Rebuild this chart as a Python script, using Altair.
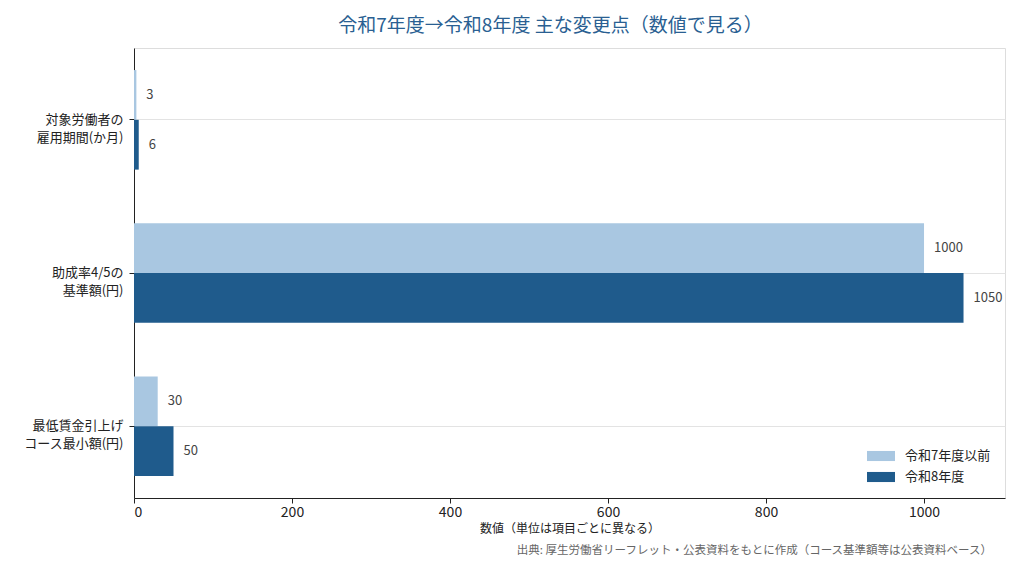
import altair as alt
import pandas as pd

FONT = "Noto Sans CJK JP"

categories = ["対象労働者の\n雇用期間(か月)", "助成率4/5の\n基準額(円)", "最低賃金引上げ\nコース最小額(円)"]
series = ["令和7年度以前", "令和8年度"]
before_values = [3, 1000, 30]
after_values = [6, 1050, 50]
colors = ["#a9c7e1", "#1f5b8c"]

rows = []
for cat, b, a in zip(categories, before_values, after_values):
    rows.append({"item": cat, "period": series[0], "value": b})
    rows.append({"item": cat, "period": series[1], "value": a})
df = pd.DataFrame(rows)

W, H = 871, 450

base = alt.Chart(df).encode(
    y=alt.Y(
        "item:N",
        sort=categories,
        scale=alt.Scale(paddingInner=0.35, paddingOuter=0.144),
        axis=alt.Axis(
            title=None,
            labelExpr="split(datum.label, '\\n')",
            labelFont=FONT,
            labelFontSize=13,
            labelColor="#222222",
            labelLineHeight=18,
            labelPadding=6,
            tickSize=5,
            tickColor="#222222",
            domainColor="#222222",
            grid=True,
            gridColor="#e3e3e3",
            bandPosition=0.5,
        ),
    ),
    yOffset=alt.YOffset("period:N", sort=series),
)

bars = base.mark_bar().encode(
    x=alt.X(
        "value:Q",
        scale=alt.Scale(domain=[0, 1102.5], nice=False),
        axis=alt.Axis(
            title="数値（単位は項目ごとに異なる）",
            titleFont=FONT,
            titleFontSize=12,
            titleFontWeight="normal",
            titleColor="#222222",
            titlePadding=4,
            values=[0, 200, 400, 600, 800, 1000],
            format="d",
            labelFont=FONT,
            labelFontSize=14,
            labelColor="#222222",
            tickSize=5,
            tickColor="#222222",
            domainColor="#222222",
            grid=False,
        ),
    ),
    color=alt.Color(
        "period:N",
        sort=series,
        scale=alt.Scale(domain=series, range=colors),
        legend=alt.Legend(
            title=None,
            orient="bottom-right",
            offset=14,
            labelFont=FONT,
            labelFontSize=13,
            labelColor="#222222",
            symbolType="M-1,-0.36L1,-0.36L1,0.36L-1,0.36Z",
            symbolSize=784,
            symbolStrokeWidth=0,
            symbolOpacity=1,
            rowPadding=0,
            labelOffset=10,
        ),
    ),
)

labels = base.mark_text(
    align="left", baseline="middle", dx=10, font=FONT, fontSize=13, color="#444444"
).encode(
    x=alt.X("value:Q"),
    text=alt.Text("value:Q"),
)

footer = alt.Chart(pd.DataFrame({"t": ["出典: 厚生労働省リーフレット・公表資料をもとに作成（コース基準額等は公表資料ベース）"]})).mark_text(
    align="right", baseline="middle", font=FONT, fontSize=11.5, color="#666666"
).encode(
    x=alt.value(858),
    y=alt.value(H + 53),
    text="t:N",
)

chart = (
    alt.layer(bars, labels, footer)
    .properties(
        width=W,
        height=H,
        autosize=alt.AutoSizeParams(type="none"),
        padding={"left": 126, "top": 40, "right": 10, "bottom": 60},
        title=alt.TitleParams(
            "令和7年度→令和8年度 主な変更点（数値で見る）",
            font=FONT,
            fontSize=19,
            fontWeight="normal",
            color="#2a5f92",
            anchor="middle",
            dx=-19,
            offset=12,
        ),
    )
    .configure_view(stroke=None)
    .configure(background="white")
)

chart.save("out.html", embed_options={"renderer": "svg", "actions": False})
